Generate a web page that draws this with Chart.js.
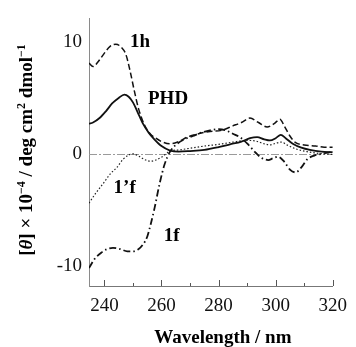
<!DOCTYPE html>
<html>
<head>
<meta charset="utf-8">
<script src="https://cdn.jsdelivr.net/npm/chart.js@4/dist/chart.umd.min.js"></script>
<style>
  html, body { margin: 0; padding: 0; background: #fff; }
  #wrap { width: 356px; height: 347px; }
</style>
</head>
<body>
<div id="wrap"><canvas id="cdChart"></canvas></div>
<script>
// CD spectra, values in units of 10^4 deg cm2 dmol-1
const wl1h = [234.6, 236, 238, 240, 242, 244, 246, 247.5, 249, 250.5, 252, 254, 256, 258, 260, 263, 266, 269, 273, 277, 281, 285, 288, 291, 294, 297, 299.5, 301.5, 303, 305, 307, 310, 314, 317, 320];
const cd1h = [8.1, 7.8, 8.3, 9.0, 9.6, 9.8, 9.5, 8.9, 7.4, 5.6, 4.0, 2.6, 1.8, 1.4, 1.1, 0.9, 1.1, 1.5, 1.8, 2.0, 2.1, 2.5, 2.8, 3.2, 2.8, 2.4, 2.7, 3.1, 2.5, 1.6, 1.0, 0.8, 0.7, 0.6, 0.6];

const wlPHD = [234.6, 236, 238.3, 240.5, 242.7, 245, 247, 248.5, 250, 251.5, 253.5, 255.5, 257.5, 260, 263, 266, 270, 275, 280, 284, 288, 291, 293.5, 296, 298, 300, 301.8, 303.5, 306, 309, 312, 316, 320];
const cdPHD = [2.7, 2.8, 3.2, 3.8, 4.5, 5.0, 5.3, 5.1, 4.6, 3.8, 2.7, 1.9, 1.3, 0.7, 0.3, 0.2, 0.25, 0.35, 0.6, 0.85, 1.1, 1.4, 1.5, 1.3, 1.2, 1.4, 1.7, 1.4, 0.9, 0.55, 0.35, 0.2, 0.15];

const wl1pf = [234.6, 237, 240, 242, 244.4, 246.5, 248.5, 250, 252, 254, 256, 258, 260.3, 263, 266, 270, 275, 280, 285, 290, 293, 296, 298, 300, 302, 304, 307, 311, 315, 320];
const cd1pf = [-4.4, -3.5, -2.5, -1.8, -1.2, -0.5, -0.1, 0.0, -0.2, -0.5, -0.65, -0.55, -0.25, 0.25, 0.35, 0.5, 0.7, 0.85, 1.05, 1.2, 1.15, 0.9, 0.8, 0.95, 1.05, 0.8, 0.45, 0.2, 0.05, -0.05];

const wl1f = [234.6, 236.5, 239, 241, 243, 245.5, 248, 250, 252, 253.5, 255, 256.2, 257.6, 259.3, 261, 263, 265.5, 268, 271, 274, 277, 280, 282.5, 285, 288, 290.5, 293, 295, 297.4, 299, 300.8, 303, 305, 307, 309, 311, 313.5, 316, 320];
const cd1f = [-10.2, -9.4, -8.8, -8.5, -8.4, -8.5, -8.7, -8.7, -8.5, -8.1, -7.4, -6.3, -4.8, -2.7, -1.0, 0.2, 0.9, 1.3, 1.6, 1.9, 2.1, 2.2, 2.1, 1.8, 1.4, 0.8, 0.1, -0.35, -0.55, -0.4, -0.25, -0.7, -1.4, -1.65, -1.2, -0.5, -0.15, 0.0, 0.2];

const xMajor = [240, 260, 280, 300, 320];
const xMinor = [250, 270, 290, 310];
const yTicks = [-10, 0, 10];

const serif = "'Liberation Serif', 'Times New Roman', serif";

function pts(xs, ys) {
  return xs.map((x, i) => ({ x: x, y: ys[i] }));
}

// curve labels, placed in data coordinates
const curveLabels = [
  { text: "1h", x: 252.5, y: 9.95 },
  { text: "PHD", x: 262.3, y: 4.85 },
  { text: "1\u2019f", x: 247.1, y: -3.1 },
  { text: "1f", x: 263.6, y: -7.3 }
];

const decor = {
  id: "decor",
  beforeDatasetsDraw(chart) {
    const c = chart.ctx;
    const xs = chart.scales.x, ys = chart.scales.y;
    const a = chart.chartArea;
    c.save();
    // zero line
    c.strokeStyle = "#9a9a9a";
    c.lineWidth = 1;
    c.setLineDash([8, 2, 2, 2]);
    const y0 = Math.round(ys.getPixelForValue(0)) + 0.5;
    c.beginPath();
    c.moveTo(a.left, y0);
    c.lineTo(a.right, y0);
    c.stroke();
    c.setLineDash([]);
    // x ticks pointing into the plot
    c.strokeStyle = "#555";
    xMajor.forEach(v => {
      const px = Math.round(xs.getPixelForValue(v)) + 0.5;
      c.beginPath(); c.moveTo(px, a.bottom); c.lineTo(px, a.bottom - 6); c.stroke();
    });
    xMinor.forEach(v => {
      const px = Math.round(xs.getPixelForValue(v)) + 0.5;
      c.beginPath(); c.moveTo(px, a.bottom); c.lineTo(px, a.bottom - 3); c.stroke();
    });
    c.restore();
  },
  afterDraw(chart) {
    const c = chart.ctx;
    const xs = chart.scales.x, ys = chart.scales.y;
    const a = chart.chartArea;
    c.save();
    c.fillStyle = "#000";
    c.textAlign = "center";
    c.textBaseline = "middle";
    c.font = "bold 19px " + serif;
    curveLabels.forEach(l => {
      c.fillText(l.text, xs.getPixelForValue(l.x), ys.getPixelForValue(l.y));
    });
    // x title
    c.fillText("Wavelength / nm", (a.left + a.right) / 2 + 12, 338);
    // y title, rotated, with superscripts
    const parts = [
      { t: "[", f: "bold 19px " + serif, up: 0 },
      { t: "\u03b8", f: "bold italic 19px " + serif, up: 0 },
      { t: "] \u00d7 10", f: "bold 19px " + serif, up: 0 },
      { t: "\u22124", f: "bold 12px " + serif, up: 7 },
      { t: " / deg cm", f: "bold 19px " + serif, up: 0 },
      { t: "2", f: "bold 12px " + serif, up: 7 },
      { t: " dmol", f: "bold 19px " + serif, up: 0 },
      { t: "\u22121", f: "bold 12px " + serif, up: 7 }
    ];
    let total = 0;
    parts.forEach(p => { c.font = p.f; p.w = c.measureText(p.t).width; total += p.w; });
    c.translate(26, 150);
    c.rotate(-Math.PI / 2);
    c.textAlign = "left";
    c.textBaseline = "alphabetic";
    let cx = -total / 2;
    parts.forEach(p => {
      c.font = p.f;
      c.fillText(p.t, cx, 6 - p.up);
      cx += p.w;
    });
    c.restore();
  }
};

const ctx = document.getElementById("cdChart").getContext("2d");
new Chart(ctx, {
  type: "line",
  data: {
    datasets: [
      { label: "1h", data: pts(wl1h, cd1h), borderColor: "#111", borderWidth: 1.5, borderDash: [6, 3] },
      { label: "PHD", data: pts(wlPHD, cdPHD), borderColor: "#111", borderWidth: 1.8 },
      { label: "1'f", data: pts(wl1pf, cd1pf), borderColor: "#222", borderWidth: 1.2, borderDash: [1.5, 2] },
      { label: "1f", data: pts(wl1f, cd1f), borderColor: "#111", borderWidth: 1.8, borderDash: [7, 3, 1.5, 3] }
    ]
  },
  options: {
    responsive: true,
    maintainAspectRatio: false,
    animation: false,
    layout: { padding: { top: 14, right: 14, left: 0, bottom: 0 } },
    elements: {
      point: { radius: 0 },
      line: { cubicInterpolationMode: "monotone", fill: false }
    },
    plugins: {
      legend: { display: false },
      tooltip: { enabled: false }
    },
    scales: {
      x: {
        type: "linear",
        min: 234.6,
        max: 320,
        afterBuildTicks: s => { s.ticks = xMajor.map(v => ({ value: v })); },
        afterFit: s => { s.height = 61; },
        grid: { display: false, drawTicks: false },
        border: { display: true, color: "#777", width: 1, dash: [6, 2, 1, 2] },
        ticks: { color: "#111", padding: 9, maxRotation: 0, font: { family: serif, size: 19 } }
      },
      y: {
        min: -11.8,
        max: 12.1,
        afterBuildTicks: s => { s.ticks = yTicks.map(v => ({ value: v })); },
        afterFit: s => { s.width = 89; },
        grid: { display: false, drawTicks: false },
        border: { display: true, color: "#8a8a8a", width: 1 },
        ticks: { color: "#111", padding: 7, font: { family: serif, size: 19 } }
      }
    }
  },
  plugins: [decor]
});
</script>
</body>
</html>
